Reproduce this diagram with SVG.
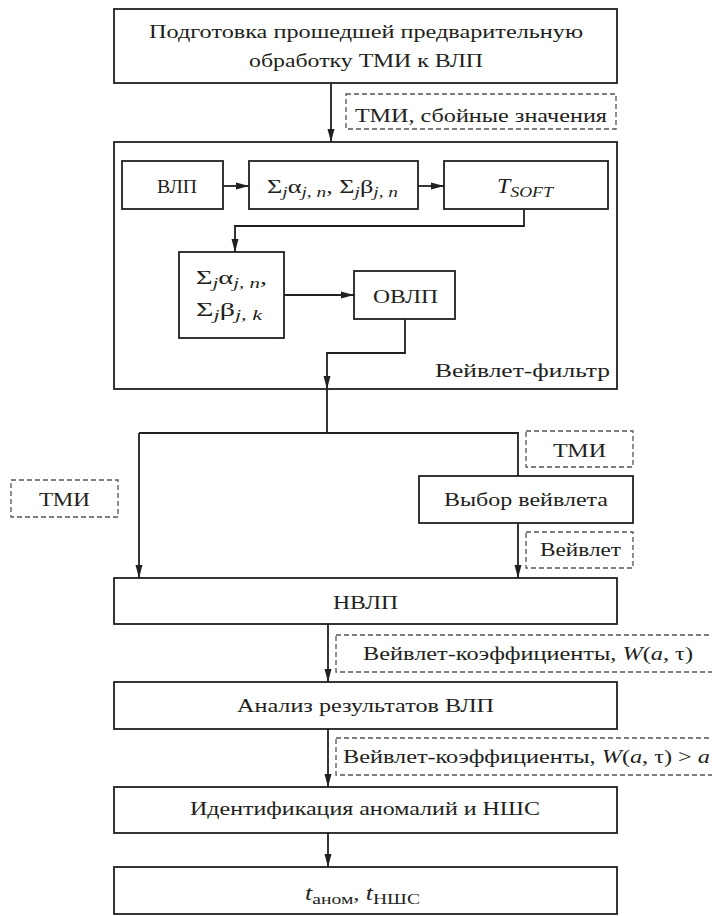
<svg xmlns="http://www.w3.org/2000/svg" width="712" height="916" viewBox="0 0 712 916">
<style>
.box{fill:#fff;stroke:#231f20;stroke-width:1.8}
.dash{fill:#fff;stroke:#555;stroke-width:1.3;stroke-dasharray:5 3}
.t{font-family:"Liberation Serif","Times New Roman",serif;font-size:19px;fill:#231f20}
.i{font-style:italic}
.s{font-size:14px}
.conn{fill:none;stroke:#231f20;stroke-width:1.8}
</style>
<defs>
<marker id="ah" markerUnits="userSpaceOnUse" markerWidth="13" markerHeight="8" refX="13" refY="4" orient="auto">
<path d="M0,0.5 L13,4 L0,7.5 z" fill="#231f20"/>
</marker>
</defs>
<rect width="712" height="916" fill="#fff"/>

<g id="connectors">
<line class="conn" x1="331" y1="83" x2="331" y2="142" marker-end="url(#ah)"/>
<line class="conn" x1="223" y1="186" x2="249" y2="186" marker-end="url(#ah)"/>
<line class="conn" x1="418" y1="186" x2="444" y2="186" marker-end="url(#ah)"/>
<polyline class="conn" points="524,209 524,226 235,226 235,252" marker-end="url(#ah)"/>
<line class="conn" x1="284" y1="295" x2="354" y2="295" marker-end="url(#ah)"/>
<polyline class="conn" points="405,319 405,353 327,353 327,389" marker-end="url(#ah)"/>
<polyline class="conn" points="327,389 327,433"/>
<polyline class="conn" points="139,433 518,433 518,476"/>
<line class="conn" x1="139" y1="433" x2="139" y2="578" marker-end="url(#ah)"/>
<line class="conn" x1="518" y1="523" x2="518" y2="578" marker-end="url(#ah)"/>
<line class="conn" x1="328" y1="624" x2="328" y2="682" marker-end="url(#ah)"/>
<line class="conn" x1="328" y1="729" x2="328" y2="787" marker-end="url(#ah)"/>
<line class="conn" x1="328" y1="833" x2="328" y2="867" marker-end="url(#ah)"/>
</g>

<g id="prep">
<rect class="box" x="114" y="9" width="503" height="74"/>
<text class="t" x="149" y="38" textLength="434" lengthAdjust="spacingAndGlyphs">Подготовка прошедшей предварительную</text>
<text class="t" x="249" y="67" textLength="234" lengthAdjust="spacingAndGlyphs">обработку ТМИ к ВЛП</text>
</g>

<g id="lbl-tmi-fail">
<rect class="dash" x="346" y="94" width="270" height="35"/>
<text class="t" x="355" y="122" textLength="252" lengthAdjust="spacingAndGlyphs">ТМИ, сбойные значения</text>
</g>

<g id="wavelet-filter">
<rect class="box" x="114" y="142" width="503" height="247" style="fill:none"/>
<text class="t" x="435" y="377" textLength="175" lengthAdjust="spacingAndGlyphs">Вейвлет-фильтр</text>
</g>

<g id="vlp">
<rect class="box" x="122" y="161" width="101" height="48"/>
<text class="t" x="157" y="193" textLength="40" lengthAdjust="spacingAndGlyphs">ВЛП</text>
</g>

<g id="sum1">
<rect class="box" x="249" y="161" width="169" height="48"/>
<text class="t" x="267" y="193" textLength="131" lengthAdjust="spacingAndGlyphs">Σ<tspan class="i s" dy="4">j</tspan><tspan dy="-4">α</tspan><tspan class="i s" dy="4">j, n</tspan><tspan dy="-4">, Σ</tspan><tspan class="i s" dy="4">j</tspan><tspan dy="-4">β</tspan><tspan class="i s" dy="4">j, n</tspan></text>
</g>

<g id="tsoft">
<rect class="box" x="444" y="161" width="164" height="48"/>
<text class="t" x="497" y="193" textLength="56" lengthAdjust="spacingAndGlyphs"><tspan class="i" font-size="20">T</tspan><tspan class="i" font-size="15" dy="4">SOFT</tspan></text>
</g>

<g id="sum2">
<rect class="box" x="179" y="252" width="105" height="86"/>
<text class="t" x="196" y="284" textLength="71" lengthAdjust="spacingAndGlyphs">Σ<tspan class="i s" dy="4">j</tspan><tspan dy="-4">α</tspan><tspan class="i s" dy="4">j, n</tspan><tspan dy="-4">,</tspan></text>
<text class="t" x="196" y="316" textLength="66" lengthAdjust="spacingAndGlyphs">Σ<tspan class="i s" dy="4">j</tspan><tspan dy="-4">β</tspan><tspan class="i s" dy="4">j, k</tspan></text>
</g>

<g id="ovlp">
<rect class="box" x="354" y="271" width="101" height="48"/>
<text class="t" x="373" y="303" textLength="65" lengthAdjust="spacingAndGlyphs">ОВЛП</text>
</g>

<g id="lbl-tmi-right">
<rect class="dash" x="526" y="431" width="107" height="36"/>
<text class="t" x="553" y="457" textLength="53" lengthAdjust="spacingAndGlyphs">ТМИ</text>
</g>

<g id="choose-wavelet">
<rect class="box" x="419" y="476" width="214" height="47"/>
<text class="t" x="444" y="506" textLength="164" lengthAdjust="spacingAndGlyphs">Выбор вейвлета</text>
</g>

<g id="lbl-wavelet">
<rect class="dash" x="526" y="532" width="107" height="36"/>
<text class="t" x="540" y="556" textLength="81" lengthAdjust="spacingAndGlyphs">Вейвлет</text>
</g>

<g id="lbl-tmi-left">
<rect class="dash" x="11" y="480" width="107" height="37"/>
<text class="t" x="39" y="506" textLength="51" lengthAdjust="spacingAndGlyphs">ТМИ</text>
</g>

<g id="nvlp">
<rect class="box" x="114" y="578" width="503" height="46"/>
<text class="t" x="333" y="609" textLength="65" lengthAdjust="spacingAndGlyphs">НВЛП</text>
</g>

<g id="lbl-coef">
<rect class="dash" x="336" y="635" width="390" height="37"/>
<text class="t" x="363" y="660" textLength="330" lengthAdjust="spacingAndGlyphs">Вейвлет-коэффициенты, <tspan class="i">W</tspan>(<tspan class="i">a</tspan>, τ)</text>
</g>

<g id="analysis">
<rect class="box" x="114" y="682" width="503" height="47"/>
<text class="t" x="237" y="712" textLength="257" lengthAdjust="spacingAndGlyphs">Анализ результатов ВЛП</text>
</g>

<g id="lbl-coef2">
<rect class="dash" x="336" y="738" width="390" height="37"/>
<text class="t" x="343" y="763" textLength="367" lengthAdjust="spacingAndGlyphs">Вейвлет-коэффициенты, <tspan class="i">W</tspan>(<tspan class="i">a</tspan>, τ) &gt; <tspan class="i">a</tspan></text>
</g>

<g id="identify">
<rect class="box" x="114" y="787" width="503" height="46"/>
<text class="t" x="190" y="815" textLength="350" lengthAdjust="spacingAndGlyphs">Идентификация аномалий и НШС</text>
</g>

<g id="result">
<rect class="box" x="114" y="867" width="503" height="47"/>
<text class="t" x="305" y="900" textLength="115" lengthAdjust="spacingAndGlyphs"><tspan class="i" font-size="20">t</tspan><tspan font-size="15" dy="4">аном</tspan><tspan dy="-4">, </tspan><tspan class="i" font-size="20">t</tspan><tspan font-size="15" dy="4">НШС</tspan></text>
</g>
</svg>
